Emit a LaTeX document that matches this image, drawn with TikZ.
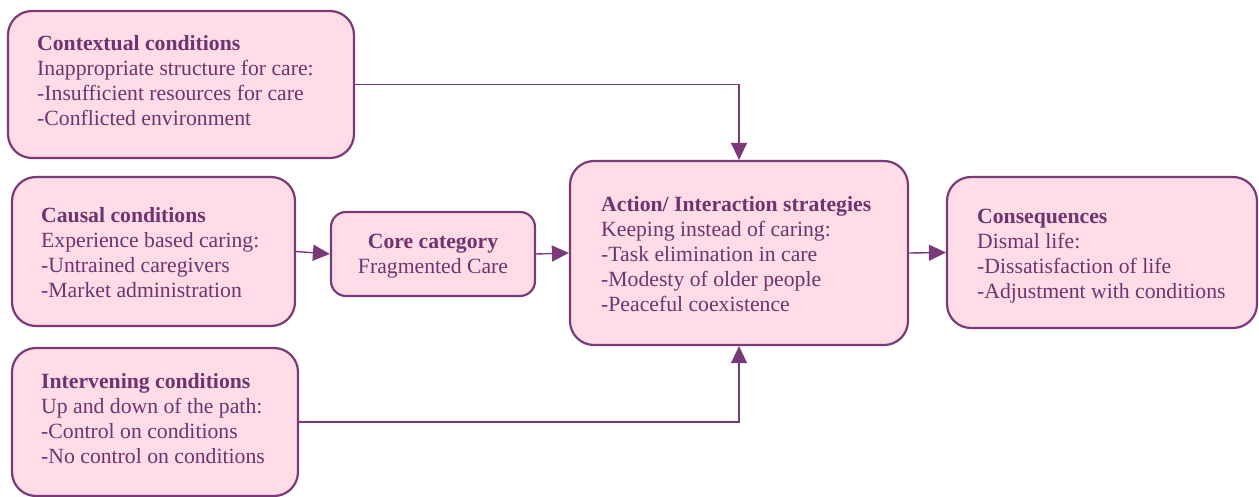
\documentclass[tikz,border=0pt]{standalone}
\usepackage{fontspec}
\setmainfont{Liberation Serif}
\usetikzlibrary{arrows.meta}
\definecolor{bordc}{RGB}{122,58,122}
\definecolor{fillc}{RGB}{255,220,230}
\definecolor{textc}{RGB}{112,50,112}
\tikzset{
  box/.style={draw=bordc, fill=fillc, line width=2.2pt, rounded corners=24pt, inner sep=0pt},
  txt/.style={text=textc, align=left, inner sep=0pt, anchor=north west,
    font=\fontsize{21.7}{25}\selectfont},
  conn/.style={draw=bordc, line width=1.4pt, -{Triangle[length=17pt,width=16pt]}}
}
\begin{document}
\begin{tikzpicture}[x=1pt,y=-1pt]
\useasboundingbox (0,0) rectangle (1259,497);
% boxes
\node[box, minimum width=346pt, minimum height=147pt] (ctx) at (181,84.5) {};
\node[box, minimum width=283pt, minimum height=149pt] (cau) at (153.5,251.5) {};
\node[box, minimum width=286pt, minimum height=148pt] (int) at (155,422) {};
\node[box, rounded corners=15pt, minimum width=204pt, minimum height=84pt] (core) at (433,254) {};
\node[box, minimum width=338pt, minimum height=184pt] (act) at (739,253) {};
\node[box, minimum width=310pt, minimum height=151pt] (cons) at (1102,252.5) {};
% texts
\node[txt] (ctxt) at (37,32.5)
  {\strut\textbf{Contextual conditions}\\Inappropriate structure for care:\\-Insufficient resources for care\\-Conflicted environment};
\node[txt] (caut) at (41,204.5)
  {\strut\textbf{Causal conditions}\\Experience based caring:\\-Untrained caregivers\\-Market administration};
\node[txt] (intt) at (41,370.5)
  {\strut\textbf{Intervening conditions}\\Up and down of the path:\\-Control on conditions\\-No control on conditions};
\node[txt, align=center, anchor=north] (coret) at (433,230.5)
  {\strut\textbf{Core category}\\Fragmented Care};
\node[txt] (actt) at (601,193.5)
  {\strut\textbf{Action/ Interaction strategies}\\Keeping instead of caring:\\-Task elimination in care\\-Modesty of older people\\-Peaceful coexistence};
\node[txt] (const) at (977,205.5)
  {\strut\textbf{Consequences}\\Dismal life:\\-Dissatisfaction of life\\-Adjustment with conditions};
% connectors
\draw[conn] (ctx.east) -| (act.north);
\draw[conn] (int.east) -| (act.south);
\draw[conn] (cau.east) -- (core.west);
\draw[conn] (core.east) -- (act.west);
\draw[conn] (act.east) -- (cons.west);
\end{tikzpicture}
\end{document}
